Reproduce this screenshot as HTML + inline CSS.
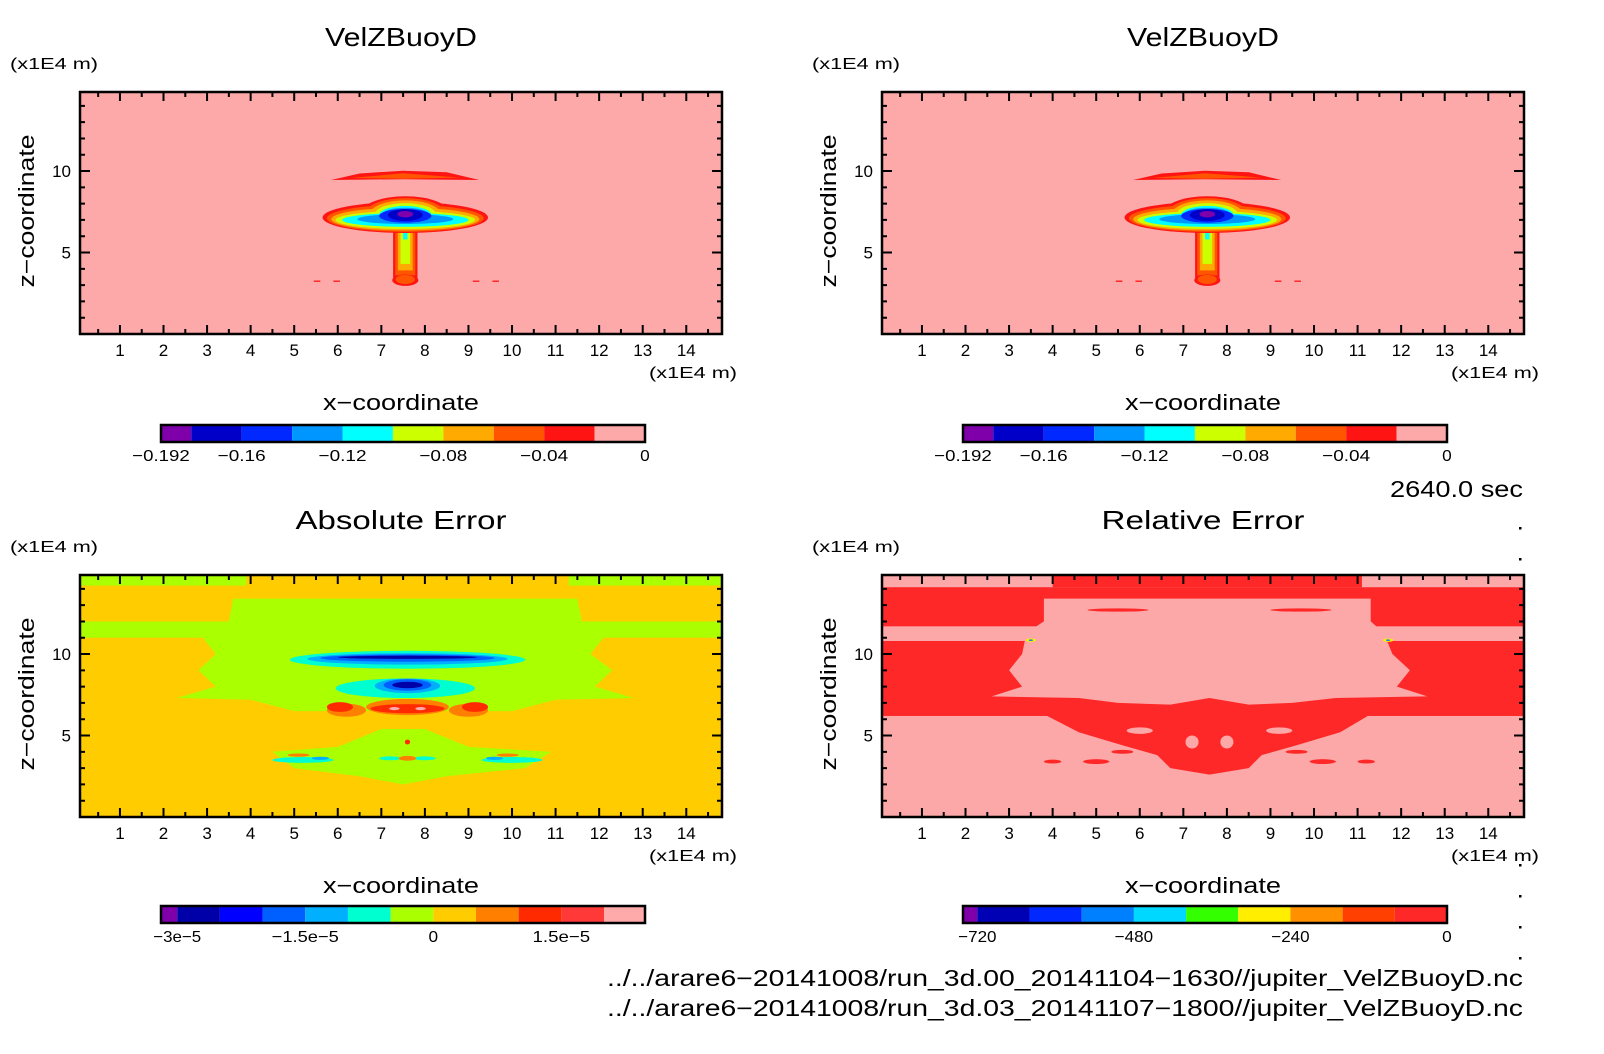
<!DOCTYPE html>
<html><head><meta charset="utf-8"><style>
html,body{margin:0;padding:0;background:#fff;}
svg{display:block;font-family:"Liberation Sans","DejaVu Sans",sans-serif;}
</style></head><body>
<svg id="root" width="1604" height="1054" viewBox="0 0 1604 1054" xmlns="http://www.w3.org/2000/svg"></svg>
<script>
// ---- data ----
const xTicks = [1,2,3,4,5,6,7,8,9,10,11,12,13,14];
const zTicks = [5,10];
const xDomain = [0.083, 14.82];
const zDomain = [0, 14.85];

// VelZBuoyD colorbar
const velBounds = [-0.192,-0.18,-0.16,-0.14,-0.12,-0.10,-0.08,-0.06,-0.04,-0.02,0];
const velColors = ["#7f00aa","#0000c8","#0028ff","#0096ff","#00ffff","#ccff00","#ffaa00","#ff5500","#ff1414","#fda9a9"];
const velLabelVals = [-0.192,-0.16,-0.12,-0.08,-0.04,0];
const velLabelText = ["\u22120.192","\u22120.16","\u22120.12","\u22120.08","\u22120.04","0"];
// ellipses [cx, cz, rx, rz, colorIndex]
const velEllipses = [
 [7.55,7.15,1.9,0.95,8],[7.55,7.45,1.0,1.0,8],[7.55,3.3,0.3,0.35,8],
 [7.55,7.1,1.8,0.83,7],[7.55,7.42,0.9,0.92,7],[7.55,3.35,0.22,0.28,7],
 [7.55,7.05,1.7,0.7,6],[7.55,7.4,0.8,0.8,6],
 [7.55,7.0,1.6,0.55,5],[7.55,7.35,0.7,0.68,5],
 [7.55,7.0,1.45,0.42,4],[7.55,7.3,0.6,0.56,4],
 [7.55,7.05,1.1,0.3,3],[7.55,7.3,0.55,0.45,3],
 [7.55,7.25,0.6,0.42,2],
 [7.55,7.3,0.4,0.36,1],
 [7.55,7.35,0.18,0.2,0]
];
// rects [x0,x1,z0,z1,colorIndex]
const velRects = [
 [7.27,7.83,3.4,7.0,8],[7.32,7.78,3.6,7.0,7],[7.38,7.72,3.9,7.0,6],[7.44,7.66,4.3,7.0,5],[7.5,7.6,5.8,7.0,4],
 [5.45,5.6,3.2,3.28,8],[5.9,6.05,3.2,3.28,8],[9.1,9.25,3.2,3.28,8],[9.55,9.7,3.2,3.28,8]
];
const velPolys = [
 [[[5.85,9.45],[6.5,9.85],[7.5,10.02],[8.5,9.92],[9.25,9.45],[7.5,9.5]],8],
 [[[6.3,9.57],[7.5,9.86],[8.8,9.6],[7.5,9.53]],7]
];

// Absolute error colorbar
const absBounds = [-3.19e-5,-3e-5,-2.5e-5,-2e-5,-1.5e-5,-1e-5,-0.5e-5,0,0.5e-5,1e-5,1.5e-5,2e-5,2.48e-5];
const absColors = ["#7f00aa","#0000a8","#0000ff","#0060ff","#00b0ff","#00ffd0","#aaff00","#ffcc00","#ff8000","#ff2a00","#ff3838","#ffaaaa"];
const absLabelVals = [-3e-5,-1.5e-5,0,1.5e-5];
const absLabelText = ["\u22123e\u22125","\u22121.5e\u22125","0","1.5e\u22125"];
const absBg = 7;
const absRects = [[0,3.9,14.2,15,6],[11.3,15,14.2,15,6],[0,15,11.0,12.0,6]];
const absPolys = [
 [[[3.6,13.4],[11.5,13.4],[11.6,12],[12.1,11],[11.8,10],[12.3,9],[11.9,8],[12.8,7.3],[11,7.2],[10,6.5],[5,6.5],[4,7.2],[2.3,7.3],[3.2,8],[2.8,9],[3.2,10],[2.9,11],[3.5,12]],6],
 [[[4.5,4.0],[6,4.3],[7,5.4],[8,5.4],[9,4.3],[10.9,4.0],[10.3,3.0],[8.5,2.5],[7.5,2.0],[6.5,2.5],[5,3.0]],6]
];
const absEllipses = [
 [7.6,9.65,2.7,0.55,5],[7.6,9.7,2.3,0.35,4],[7.6,9.75,2.0,0.22,3],[7.6,9.8,1.6,0.1,1],
 [7.55,7.9,1.6,0.6,5],[7.6,8.05,0.75,0.45,4],[7.6,8.1,0.55,0.35,3],[7.6,8.1,0.35,0.2,1],
 [7.6,6.75,0.95,0.5,8],[7.6,6.65,0.85,0.28,9],[7.3,6.65,0.12,0.1,11],[7.9,6.65,0.12,0.1,11],
 [6.2,6.55,0.45,0.4,8],[9.0,6.55,0.45,0.4,8],[6.05,6.75,0.3,0.3,9],[9.15,6.75,0.3,0.3,9],
 [5.2,3.5,0.7,0.18,5],[10.0,3.5,0.7,0.18,5],[7.2,3.6,0.25,0.12,5],[8.0,3.6,0.25,0.12,5],
 [5.6,3.6,0.2,0.1,4],[9.6,3.6,0.2,0.1,4],[5.1,3.8,0.25,0.1,8],[9.9,3.8,0.25,0.1,8],
 [7.6,3.6,0.2,0.15,8],[7.6,4.6,0.06,0.15,9]
];

// Relative error colorbar
const relBounds = [-742,-720,-640,-560,-480,-400,-320,-240,-160,-80,0];
const relColors = ["#7f00aa","#0000b4","#0028ff","#0080ff","#00d8ff","#33ff00","#ffee00","#ff9000","#ff4000","#ff2828"];
const relLabelVals = [-720,-480,-240,0];
const relLabelText = ["\u2212720","\u2212480","\u2212240","0"];
const relBgColor = "#fca8a8";
const relRects = [[0,15,11.7,14.1,9],[4.0,11.1,14.1,15,9],[0,15,6.2,10.8,9]];
const relPolys = [
 [[[3.8,13.4],[11.3,13.4],[11.3,12],[11.6,11.3],[11.8,10],[12.2,9],[11.9,8],[12.6,7.4],[10.5,7.3],[9.5,7.0],[8.5,6.9],[7.6,7.3],[6.7,6.9],[5.5,7.0],[4.6,7.3],[2.6,7.4],[3.3,8],[3.0,9],[3.3,10],[3.4,11.3],[3.8,12]],-1],
 [[[3.8,6.3],[11.3,6.3],[10.6,5.2],[9.6,4.4],[8.8,3.8],[8.5,3.0],[7.6,2.6],[6.7,3.0],[6.4,3.8],[5.6,4.4],[4.6,5.2]],9]
];
const relEllipses = [
 [5.5,12.7,0.7,0.1,9],[9.7,12.7,0.7,0.1,9],
 [7.2,4.6,0.15,0.4,-1],[8.0,4.6,0.15,0.4,-1],[6.0,5.3,0.3,0.2,-1],[9.2,5.3,0.3,0.2,-1],
 [5.0,3.4,0.3,0.15,9],[10.2,3.4,0.3,0.15,9],[4.0,3.4,0.2,0.12,9],[11.2,3.4,0.2,0.12,9],
 [5.6,4.0,0.25,0.12,9],[9.6,4.0,0.25,0.12,9],
 [3.5,10.85,0.12,0.1,6],[11.7,10.85,0.12,0.1,6],[3.5,10.85,0.05,0.05,3],[11.7,10.85,0.05,0.05,3]
];

// ---- drawing ----
const NS = "http://www.w3.org/2000/svg";
const root = document.getElementById("root");
function mk(tag, parent){ const e=document.createElementNS(NS,tag); parent.appendChild(e); return e; }
function txt(parent, s, x, y, size, anchor, len){
  const t = mk("text", parent);
  t.setAttribute("x", x); t.setAttribute("y", y);
  t.setAttribute("font-size", size); t.setAttribute("text-anchor", anchor||"middle");
  t.setAttribute("fill","#000");
  if(len){ t.setAttribute("textLength", len); t.setAttribute("lengthAdjust","spacingAndGlyphs"); }
  t.textContent = s; return t;
}
const PW = 642, PH = 242;
let clipId = 0;

function panel(ox, oy, name, title, titleLen, bgColor, colors, rects, polys, ellipses){
  const g = mk("g", root);
  
  
  const X = x => ox + (x - xDomain[0]) / (xDomain[1]-xDomain[0]) * PW;
  const Z = z => oy + (zDomain[1] - z) / (zDomain[1]-zDomain[0]) * PH;
  const col = i => i < 0 ? bgColor : colors[i];
  const cp = mk("clipPath", g); cp.setAttribute("id","c"+(++clipId));
  const cr = mk("rect", cp); cr.setAttribute("x",ox); cr.setAttribute("y",oy); cr.setAttribute("width",PW); cr.setAttribute("height",PH);
  const field = mk("g", g); field.setAttribute("clip-path","url(#c"+clipId+")");
  
  
  const bg = mk("rect", field);
  bg.setAttribute("x",ox); bg.setAttribute("y",oy); bg.setAttribute("width",PW); bg.setAttribute("height",PH); bg.setAttribute("fill",bgColor);
  
  
  rects.forEach(r=>{
    const e = mk("rect", field);
    e.setAttribute("x", X(r[0])); e.setAttribute("width", X(r[1])-X(r[0]));
    e.setAttribute("y", Z(r[3])); e.setAttribute("height", Z(r[2])-Z(r[3]));
    e.setAttribute("fill", col(r[4]));
    
    
  });
  polys.forEach(p=>{
    const e = mk("polygon", field);
    e.setAttribute("points", p[0].map(q=>X(q[0]).toFixed(1)+","+Z(q[1]).toFixed(1)).join(" "));
    e.setAttribute("fill", col(p[1]));
    
    
  });
  ellipses.forEach(c=>{
    const e = mk("ellipse", field);
    e.setAttribute("cx", X(c[0])); e.setAttribute("cy", Z(c[1]));
    e.setAttribute("rx", X(c[0]+c[2])-X(c[0])); e.setAttribute("ry", Z(c[1])-Z(c[1]+c[3]));
    e.setAttribute("fill", col(c[4]));
    
    
  });
  const fr = mk("rect", g);
  fr.setAttribute("x",ox); fr.setAttribute("y",oy); fr.setAttribute("width",PW); fr.setAttribute("height",PH);
  fr.setAttribute("fill","none"); fr.setAttribute("stroke","#000"); fr.setAttribute("stroke-width","2.5");
  
  
  const tk = mk("path", g);
  let d = "";
  for(let v=0.5; v<15; v+=0.5){
    const x = X(v); if(x<ox+1||x>ox+PW-1) continue;
    const L = Number.isInteger(v) ? 9 : 5;
    d += `M${x},${oy+PH}v${-L}M${x},${oy}v${L}`;
  }
  for(let v=1; v<15; v++){
    const y = Z(v); if(y<oy+1||y>oy+PH-1) continue;
    const L = (v%5===0) ? 10 : 5;
    d += `M${ox},${y}h${L}M${ox+PW},${y}h${-L}`;
  }
  tk.setAttribute("d", d); tk.setAttribute("stroke","#000"); tk.setAttribute("stroke-width","2");
  
  
  xTicks.forEach(v=>{
    const t = txt(g, String(v), X(v), oy+PH+22, 17);
    
    
  });
  zTicks.forEach(v=>{
    const t = txt(g, String(v), ox-9, Z(v)+6, 17, "end");
    
    
  });
  const tt = txt(g, title, ox+PW/2, oy-46, 26, "middle", titleLen);
  
  
  const u1 = txt(g, "(x1E4 m)", ox-70, oy-23, 16, "start", 88);
  
  
  const u2 = txt(g, "(x1E4 m)", ox+PW+15, oy+PH+44, 16, "end", 88);
  
  
  const xl = txt(g, "x\u2212coordinate", ox+PW/2, oy+PH+76, 22, "middle", 156);
  
  
  const zl = txt(g, "z\u2212coordinate", 0, 0, 22, "middle", 153);
  zl.setAttribute("transform", `translate(${ox-46},${oy+PH/2-2}) rotate(-90)`);
  
  
}

function colorbar(x0, x1, y0, name, bounds, colors, labelVals, labelText){
  const g = mk("g", root);
  
  
  const S = v => x0 + (v - bounds[0])/(bounds[bounds.length-1]-bounds[0])*(x1-x0);
  const H = 17;
  colors.forEach((c,i)=>{
    const r = mk("rect", g);
    r.setAttribute("x", S(bounds[i])); r.setAttribute("width", S(bounds[i+1])-S(bounds[i]));
    r.setAttribute("y", y0); r.setAttribute("height", H); r.setAttribute("fill", c);
    
    
  });
  const fr = mk("rect", g);
  fr.setAttribute("x",x0); fr.setAttribute("y",y0); fr.setAttribute("width",x1-x0); fr.setAttribute("height",H);
  fr.setAttribute("fill","none"); fr.setAttribute("stroke","#000"); fr.setAttribute("stroke-width","2.5");
  
  
  labelVals.forEach((v,i)=>{
    const s = labelText[i];
    const t = txt(g, s, S(v), y0+H+19, 16, "middle", s.length*9.6);
    
    
  });
}

panel(80, 92, "velz-panel-left", "VelZBuoyD", 152, velColors[9], velColors, velRects, velPolys, velEllipses);
panel(882, 92, "velz-panel-right", "VelZBuoyD", 152, velColors[9], velColors, velRects, velPolys, velEllipses);
panel(80, 575, "absolute-error-panel", "Absolute Error", 211, absColors[absBg], absColors, absRects, absPolys, absEllipses);
panel(882, 575, "relative-error-panel", "Relative Error", 203, relBgColor, relColors, relRects, relPolys, relEllipses);

colorbar(161, 645, 425, "velz-colorbar-left", velBounds, velColors, velLabelVals, velLabelText);
colorbar(963, 1447, 425, "velz-colorbar-right", velBounds, velColors, velLabelVals, velLabelText);
colorbar(161, 645, 906, "absolute-error-colorbar", absBounds, absColors, absLabelVals, absLabelText);
colorbar(963, 1447, 906, "relative-error-colorbar", relBounds, relColors, relLabelVals, relLabelText);

const tm = txt(root, "2640.0 sec", 1523, 497, 23, "end", 133);


const f1 = txt(root, "../../arare6\u221220141008/run_3d.00_20141104\u22121630//jupiter_VelZBuoyD.nc", 1523, 986, 23, "end", 916);


const f2 = txt(root, "../../arare6\u221220141008/run_3d.03_20141107\u22121800//jupiter_VelZBuoyD.nc", 1523, 1016, 23, "end", 916);


[527,558,864,895,926,957].forEach(y=>{
  const c = mk("rect", root);
  c.setAttribute("x",1519); c.setAttribute("y",y); c.setAttribute("width",2.5); c.setAttribute("height",2.5); c.setAttribute("fill","#000");
  
  
});
</script>
</body></html>
